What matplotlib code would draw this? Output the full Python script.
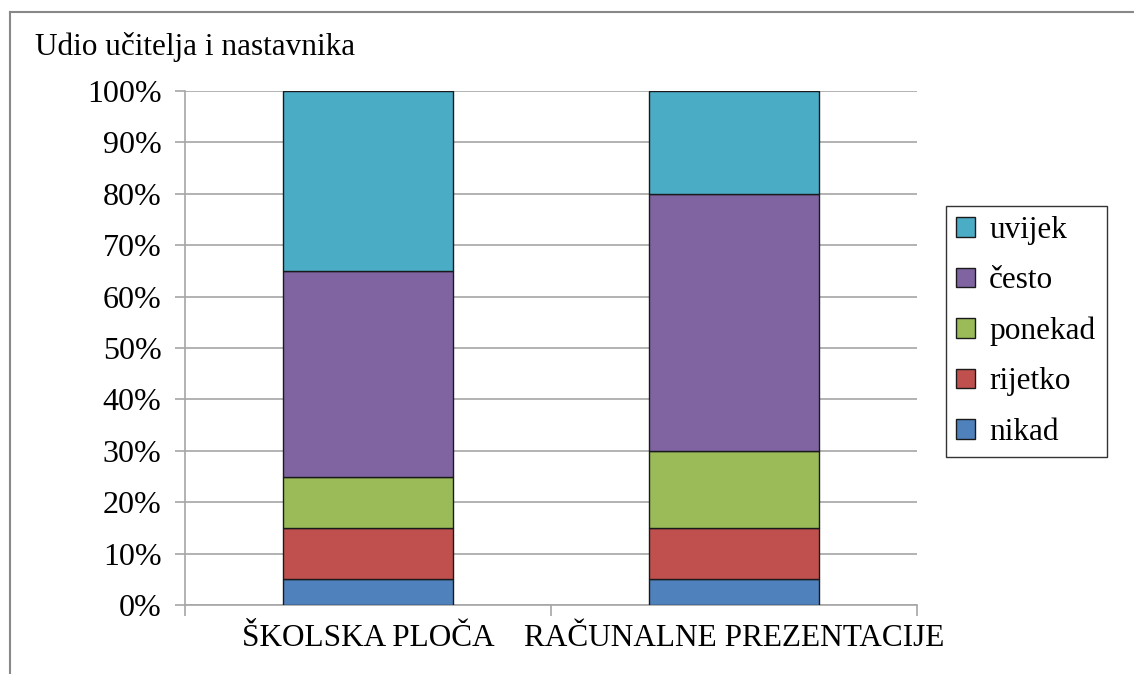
import matplotlib
matplotlib.use("Agg")
import matplotlib.pyplot as plt
from matplotlib.lines import Line2D
import numpy as np

categories = ["ŠKOLSKA PLOČA", "RAČUNALNE PREZENTACIJE"]
series = ["nikad", "rijetko", "ponekad", "često", "uvijek"]
nikad = [5, 5]
rijetko = [10, 10]
ponekad = [10, 15]
cesto = [40, 50]
uvijek = [35, 20]
colors = ["#4F81BD", "#C0504D", "#9BBB59", "#8064A2", "#4BACC6"]

plt.rcParams['font.family'] = ['Liberation Serif', 'DejaVu Serif']

W, H = 1134, 674
fig = plt.figure(figsize=(W / 100, H / 100), dpi=100)
# outer chart border (only top and left edges are visible)
fig.lines.append(Line2D([10 / W, 10 / W], [0, 1 - 12 / H], transform=fig.transFigure,
                        color="#888888", linewidth=1.5))
fig.lines.append(Line2D([10 / W, 1], [1 - 12 / H, 1 - 12 / H], transform=fig.transFigure,
                        color="#888888", linewidth=1.5))

ax = fig.add_axes([185 / W, 1 - 605 / H, 732 / W, 514 / H])

x = np.arange(len(categories))
bottom = np.zeros(len(categories))
bars = []
for name, vals, c in zip(series, [nikad, rijetko, ponekad, cesto, uvijek], colors):
    b = ax.bar(x, vals, width=0.467, bottom=bottom, color=c, edgecolor="#1a1a1a",
               linewidth=1, label=name, zorder=3)
    bars.append(b)
    bottom += np.array(vals)

ax.set_xlim(-0.5, 1.5)
ax.set_ylim(0, 100)
ax.set_yticks(range(0, 101, 10))
ax.set_yticklabels([f"{v}%" for v in range(0, 101, 10)], fontsize=23)
ax.yaxis.grid(True, color="#a6a6a6", linewidth=1.2, zorder=0)
ax.set_axisbelow(True)

ax.set_xticks(x)
ax.set_xticklabels(categories, fontsize=22.5)
ax.tick_params(axis="x", length=0, pad=14)
ax.set_xticks([-0.5, 0.5, 1.5], minor=True)
ax.tick_params(axis="x", which="minor", length=8, color="#a6a6a6", width=1.2)
ax.tick_params(axis="y", length=7, color="#a6a6a6", width=1.2, pad=10)

for s in ["top", "right"]:
    ax.spines[s].set_visible(False)
for s in ["left", "bottom"]:
    ax.spines[s].set_color("#a6a6a6")
    ax.spines[s].set_linewidth(1.2)

fig.text(35 / W, 1 - 47 / H, "Udio učitelja i nastavnika", fontsize=22.5,
         ha="left", va="center")

handles = bars[::-1]
leg = ax.legend(handles, series[::-1], loc="center left",
                bbox_to_anchor=(946 / W, 1 - 457 / H, 161 / W, 251 / H),
                bbox_transform=fig.transFigure, mode="expand",
                fontsize=22.5, frameon=True, fancybox=False, edgecolor="black",
                handlelength=0.6, handleheight=0.6, handletextpad=0.45,
                labelspacing=0.68, borderpad=0.33, borderaxespad=0)
leg.get_frame().set_linewidth(1)

plt.savefig("out.png", dpi=100)
